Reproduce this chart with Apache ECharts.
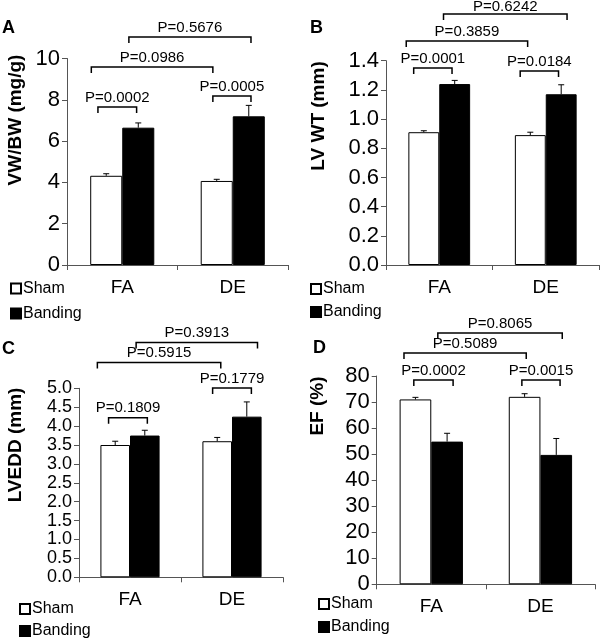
<!DOCTYPE html>
<html><head><meta charset="utf-8">
<script src="https://cdn.jsdelivr.net/npm/echarts@6/dist/echarts.min.js"></script>
<style>html,body{margin:0;padding:0;background:#fff}#c{width:600px;height:639px}</style>
</head><body><div id="c"></div>
<script>
// ---------- data ----------
const categories = ['FA', 'DE'];
const seriesNames = ['Sham', 'Banding'];
const panelLetters = ['A', 'B', 'C', 'D'];
const axisTitles = ['VW/BW (mg/g)', 'LV WT (mm)', 'LVEDD (mm)', 'EF (%)'];

// Panel A: VW/BW
const vwbwSham = [4.32, 4.07];
const vwbwShamErr = [0.10, 0.08];
const vwbwBanding = [6.65, 7.20];
const vwbwBandingErr = [0.23, 0.53];
const vwbwAxis = [0, 10, 2];
// brackets: [from (category position), to (category position), level (axis value), label]
const vwbwBrackets = [[-0.22, 0.13, 7.65, 'P=0.0002'], [0.82, 1.165, 8.18, 'P=0.0005'], [-0.28, 0.82, 9.59, 'P=0.0986'], [0.06, 1.165, 11.04, 'P=0.5676']];

// Panel B: LV WT
const lvwtSham = [0.91, 0.89];
const lvwtShamErr = [0.01, 0.02];
const lvwtBanding = [1.24, 1.17];
const lvwtBandingErr = [0.025, 0.065];
const lvwtAxis = [0, 1.4, 0.2];
const lvwtBrackets = [[-0.24, 0.12, 1.35, 'P=0.0001'], [0.76, 1.12, 1.33, 'P=0.0184'], [-0.31, 0.83, 1.535, 'P=0.3859'], [0.04, 1.2, 1.72, 'P=0.6242']];

// Panel C: LVEDD
const lveddSham = [3.50, 3.60];
const lveddShamErr = [0.10, 0.10];
const lveddBanding = [3.75, 4.25];
const lveddBandingErr = [0.14, 0.39];
const lveddAxis = [0, 5, 0.5];
const lveddBrackets = [[-0.21, 0.17, 4.22, 'P=0.1809'], [0.81, 1.19, 5.01, 'P=0.1779'], [-0.32, 0.89, 5.68, 'P=0.5915'], [0.06, 1.25, 6.21, 'P=0.3913']];

// Panel D: EF
const efSham = [71.0, 72.0];
const efShamErr = [0.8, 1.2];
const efBanding = [54.8, 49.7];
const efBandingErr = [3.2, 6.3];
const efAxis = [0, 80, 10];
const efBrackets = [[-0.16, 0.2, 78.5, 'P=0.0002'], [0.83, 1.18, 78.5, 'P=0.0015'], [-0.25, 0.87, 88.8, 'P=0.5089'], [0.06, 1.2, 96.5, 'P=0.8065']];

// ---------- layout / style ----------
const FONT = '"Liberation Sans", Arial, sans-serif';
const BAR_FRAC = 0.29;
const AXIS_COLOR = '#555';

const panels = [
  {sham: vwbwSham, shamErr: vwbwShamErr, band: vwbwBanding, bandErr: vwbwBandingErr, axis: vwbwAxis, brackets: vwbwBrackets, dec: 0, tickFont: 22,
   grid: {left: 67, top: 58.5, width: 221, height: 206.5}, title: {x: 16, y: 120}, legend: {left: 10, top: 280.5, itemGap: 9}, letter: {left: 2, top: 19}},
  {sham: lvwtSham, shamErr: lvwtShamErr, band: lvwtBanding, bandErr: lvwtBandingErr, axis: lvwtAxis, brackets: lvwtBrackets, dec: 1, tickFont: 22,
   grid: {left: 386, top: 60.7, width: 213, height: 204.3}, title: {x: 319, y: 116}, legend: {left: 310, top: 281, itemGap: 7}, letter: {left: 310, top: 19}},
  {sham: lveddSham, shamErr: lveddShamErr, band: lveddBanding, bandErr: lveddBandingErr, axis: lveddAxis, brackets: lveddBrackets, dec: 1, tickFont: 18,
   grid: {left: 79, top: 388.3, width: 204, height: 189}, title: {x: 16, y: 445}, legend: {left: 19, top: 601, itemGap: 6}, letter: {left: 2, top: 340}},
  {sham: efSham, shamErr: efShamErr, band: efBanding, bandErr: efBandingErr, axis: efAxis, brackets: efBrackets, dec: 0, tickFont: 22,
   grid: {left: 376.7, top: 376, width: 218.3, height: 208.3}, title: {x: 318, y: 406}, legend: {left: 318, top: 596, itemGap: 7}, letter: {left: 313, top: 339}}
];

function errorRender(sign) {
  return function (params, api) {
    const base = api.coord([api.value(0), api.value(1)]);
    const top = api.coord([api.value(0), api.value(1) + api.value(2)]);
    const bandW = api.size([1, 0])[0];
    const x = base[0] + sign * bandW * BAR_FRAC / 2;
    return {type: 'group', children: [
      {type: 'line', shape: {x1: x, y1: base[1], x2: x, y2: top[1]}, style: {stroke: '#000', lineWidth: 1}},
      {type: 'line', shape: {x1: x - 3, y1: top[1], x2: x + 3, y2: top[1]}, style: {stroke: '#000', lineWidth: 1}}
    ]};
  };
}

function bracketRender(list) {
  return function (params, api) {
    const b = list[params.dataIndex];
    const p0 = api.coord([0, b[2]]);
    const bandW = api.size([1, 0])[0];
    const xa = p0[0] + b[0] * bandW, xb = p0[0] + b[1] * bandW, y = p0[1];
    return {type: 'group', children: [
      {type: 'polyline', shape: {points: [[xa, y + 6], [xa, y], [xb, y], [xb, y + 6]]}, style: {stroke: '#000', lineWidth: 1.5, fill: null}},
      {type: 'text', style: {x: (xa + xb) / 2, y: Math.max(y - 2, 14), text: b[3], font: '15px ' + FONT, fill: '#000', align: 'center', verticalAlign: 'bottom'}}
    ]};
  };
}

const option = {
  animation: false,
  backgroundColor: '#fff',
  title: [], grid: [], xAxis: [], yAxis: [], legend: [], series: [], graphic: []
};

panels.forEach((p, i) => {
  option.title.push({text: panelLetters[i], left: p.letter.left, top: p.letter.top, padding: 0,
    textStyle: {fontFamily: FONT, fontWeight: 'bold', fontSize: 18, color: '#000'}});
  option.graphic.push({type: 'text', x: p.title.x, y: p.title.y, rotation: Math.PI / 2,
    style: {text: axisTitles[i], font: 'bold 19px ' + FONT, fill: '#000', align: 'center', verticalAlign: 'middle'}});
  option.grid.push(Object.assign({containLabel: false, outerBoundsMode: 'none'}, p.grid));
  option.xAxis.push({type: 'category', gridIndex: i, data: categories,
    axisLine: {show: true, lineStyle: {color: AXIS_COLOR, width: 1}},
    axisTick: {show: true, length: 5, lineStyle: {color: AXIS_COLOR}},
    axisLabel: {fontFamily: FONT, fontSize: 19, color: '#000', margin: 13}});
  option.yAxis.push({type: 'value', gridIndex: i, min: p.axis[0], max: p.axis[1], interval: p.axis[2],
    axisLine: {show: true, lineStyle: {color: AXIS_COLOR, width: 1}},
    axisTick: {show: true, length: 5, lineStyle: {color: AXIS_COLOR}},
    splitLine: {show: false},
    axisLabel: {margin: 7, showMinLabel: true, showMaxLabel: true, hideOverlap: false,
      fontFamily: FONT, fontSize: p.tickFont, color: '#000',
      formatter: v => v.toFixed(p.dec)}});
  option.legend.push({orient: 'vertical', left: p.legend.left, top: p.legend.top, itemGap: p.legend.itemGap,
    itemWidth: 10, itemHeight: 10, icon: 'rect', selectedMode: false, data: seriesNames, padding: 0,
    textStyle: {fontFamily: FONT, fontSize: 16, color: '#000', padding: [0, 0, 0, -3]}});
  option.series.push(
    {name: seriesNames[0], type: 'bar', xAxisIndex: i, yAxisIndex: i, data: p.sham, barWidth: (BAR_FRAC * 100) + '%', barGap: '0%',
      itemStyle: {color: '#fff', borderColor: '#000', borderWidth: 1}},
    {name: seriesNames[1], type: 'bar', xAxisIndex: i, yAxisIndex: i, data: p.band, barWidth: (BAR_FRAC * 100) + '%', barGap: '0%',
      itemStyle: {color: '#000', borderColor: '#000', borderWidth: 1}},
    {type: 'custom', xAxisIndex: i, yAxisIndex: i, clip: false, z: 5, renderItem: errorRender(-1),
      data: p.sham.map((v, k) => [k, v, p.shamErr[k]]), encode: {x: 0, y: 1}},
    {type: 'custom', xAxisIndex: i, yAxisIndex: i, clip: false, z: 5, renderItem: errorRender(1),
      data: p.band.map((v, k) => [k, v, p.bandErr[k]]), encode: {x: 0, y: 1}},
    {type: 'custom', xAxisIndex: i, yAxisIndex: i, clip: false, z: 6, renderItem: bracketRender(p.brackets),
      data: p.brackets.map(b => [0, Math.min(b[2], p.axis[1])]), encode: {x: 0, y: 1}}
  );
});

const chart = echarts.init(document.getElementById('c'), null, {renderer: 'canvas'});
chart.setOption(option);
</script></body></html>
